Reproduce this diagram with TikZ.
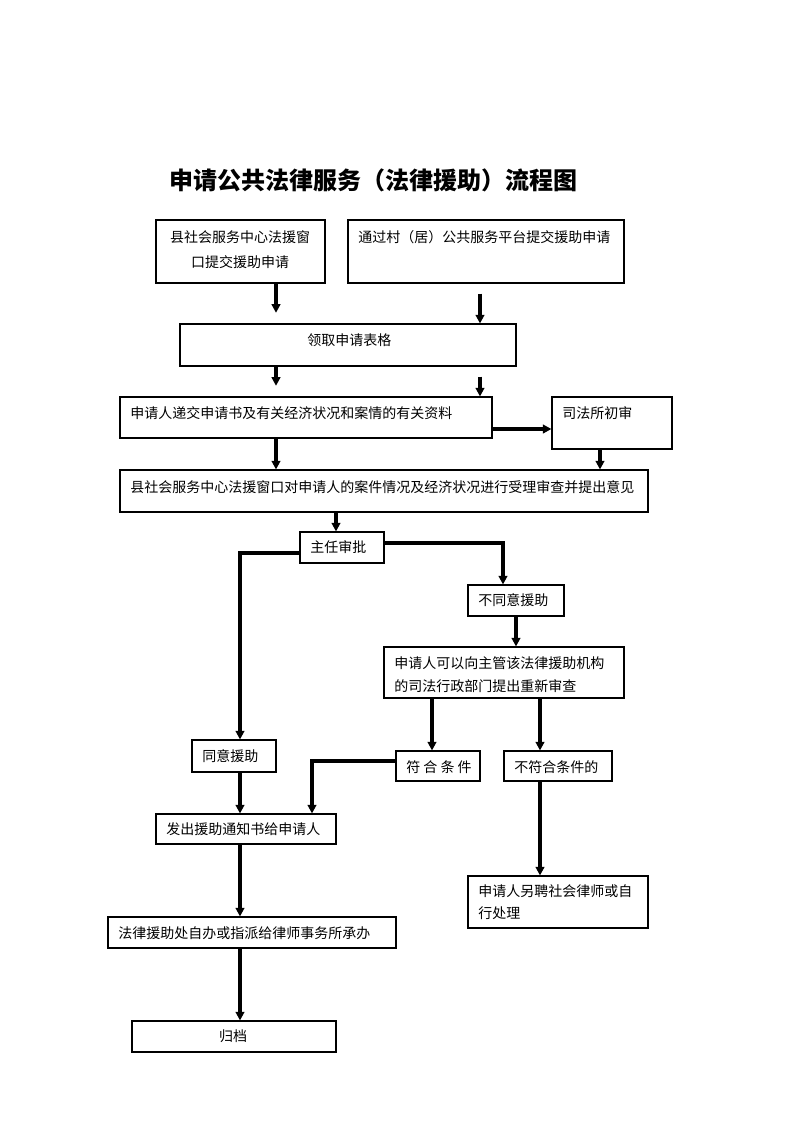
\documentclass[tikz,border=0pt]{standalone}
\usepackage{fontspec}
\setmainfont{Noto Sans CJK SC}
\usetikzlibrary{arrows.meta,fit}
\tikzset{
  box/.style={draw,line width=0.8pt,inner sep=0pt},
  txt/.style={anchor=west,inner sep=0pt,align=left,font=\fontsize{10.5}{17}\selectfont},
  arr/.style={line width=2.3pt,-{Triangle[length=6.5pt,width=6.5pt]}},
}
\begin{document}
\begin{tikzpicture}[x=0.75pt,y=-0.75pt]
  \useasboundingbox (0,0) rectangle (793,1122);

  \node[font=\fontsize{18}{20}\selectfont\bfseries] (T) at (373,180) {申请公共法律服务（法律援助）流程图};

  \node[box,fit={(156,220) (325,283)}] (A) {};
  \node[box,fit={(348,220) (624,283)}] (B) {};
  \node[box,fit={(180,324) (516,366)}] (C) {};
  \node[box,fit={(120,397) (492,438)}] (D) {};
  \node[box,fit={(552,397) (672,449)}] (E) {};
  \node[box,fit={(120,470) (648,512)}] (F) {};
  \node[box,fit={(300,532) (384,563)}] (G) {};
  \node[box,fit={(468,585) (564,616)}] (H) {};
  \node[box,fit={(384,647) (624,698)}] (I) {};
  \node[box,fit={(192,740) (276,772)}] (J) {};
  \node[box,fit={(396,751) (480,781)}] (K) {};
  \node[box,fit={(504,751) (612,781)}] (L) {};
  \node[box,fit={(156,814) (336,844)}] (M) {};
  \node[box,fit={(468,876) (648,928)}] (N) {};
  \node[box,fit={(108,917) (396,948)}] (O) {};
  \node[box,fit={(132,1021) (336,1052)}] (P) {};

  \node[txt,anchor=center,align=center,font=\fontsize{10.5}{18.5}\selectfont] (tA) at (240,249.5) {县社会服务中心法援窗\\口提交援助申请};
  \node[txt] (tB) at (358,237) {通过村（居）公共服务平台提交援助申请};
  \node[txt] (tC) at (307,340) {领取申请表格};
  \node[txt] (tD) at (130,413) {申请人递交申请书及有关经济状况和案情的有关资料};
  \node[txt] (tE) at (562,413) {司法所初审};
  \node[txt] (tF) at (130,487) {县社会服务中心法援窗口对申请人的案件情况及经济状况进行受理审查并提出意见};
  \node[txt] (tG) at (310,547) {主任审批};
  \node[txt] (tH) at (478,600) {不同意援助};
  \node[txt] (tI) at (394,674.5) {申请人可以向主管该法律援助机构\\的司法行政部门提出重新审查};
  \node[txt] (tJ) at (202,756) {同意援助};
  \node[txt] (tK) at (406,767) {符 合 条 件};
  \node[txt] (tL) at (514,767) {不符合条件的};
  \node[txt] (tM) at (166,829) {发出援助通知书给申请人};
  \node[txt] (tN) at (478,902) {申请人另聘社会律师或自\\行处理};
  \node[txt] (tO) at (118,933) {法律援助处自办或指派给律师事务所承办};
  \node[txt,anchor=center] (tP) at (233,1036) {归档};

  \draw[arr,shorten >=8pt] (A.south -| 276,0) -- (C.north -| 276,0);
  \draw[arr,shorten <=7.5pt] (B.south -| 480,0) -- (C.north -| 480,0);
  \draw[arr,shorten >=8pt] (C.south -| 276,0) -- (D.north -| 276,0);
  \draw[arr,shorten <=7.5pt] (C.south -| 480,0) -- (D.north -| 480,0);
  \draw[arr] (D.east |- 0,429) -- (E.west |- 0,429);
  \draw[arr] (D.south -| 276,0) -- (F.north -| 276,0);
  \draw[arr] (E.south -| 600,0) -- (F.north -| 600,0);
  \draw[arr] (F.south -| 336,0) -- (G.north -| 336,0);
  \draw[arr] (G.west |- 0,553) -| (J.north -| 240,0);
  \draw[arr] (G.east |- 0,543) -| (H.north -| 503,0);
  \draw[arr] (H.south -| 516,0) -- (I.north -| 516,0);
  \draw[arr] (I.south -| 432,0) -- (K.north -| 432,0);
  \draw[arr] (I.south -| 540,0) -- (L.north -| 540,0);
  \draw[arr] (K.west |- 0,761) -| (M.north -| 312,0);
  \draw[arr] (J.south -| 240,0) -- (M.north -| 240,0);
  \draw[arr] (L.south -| 540,0) -- (N.north -| 540,0);
  \draw[arr] (M.south -| 240,0) -- (O.north -| 240,0);
  \draw[arr] (O.south -| 240,0) -- (P.north -| 240,0);
\end{tikzpicture}
\end{document}
